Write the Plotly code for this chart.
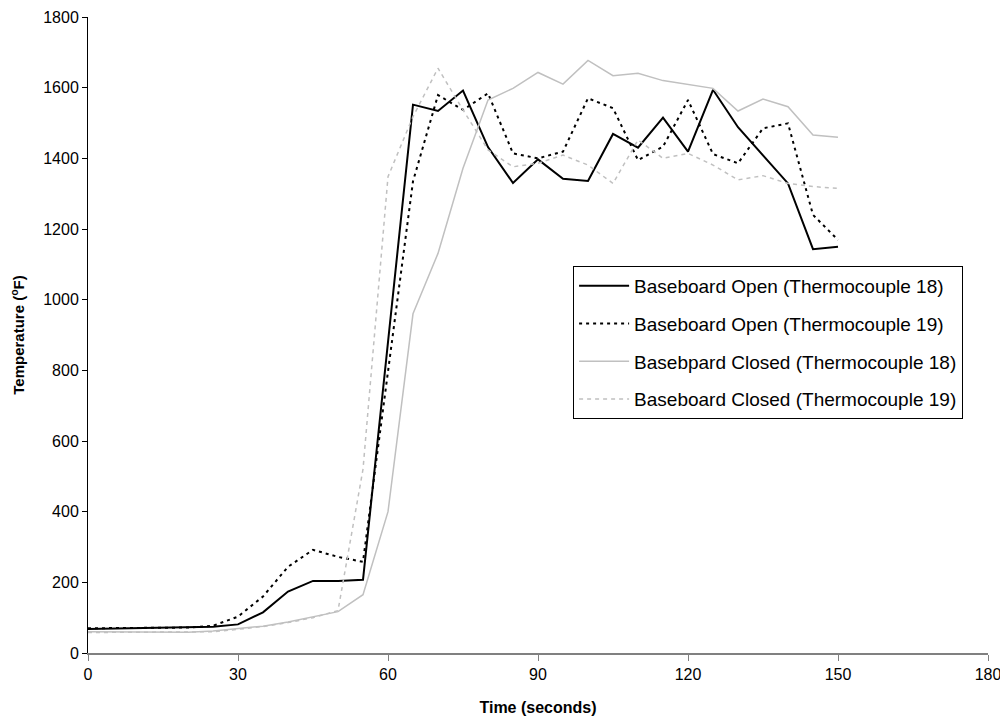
import plotly.graph_objects as go

time_s = [0, 5, 10, 15, 20, 25, 30, 35, 40, 45, 50, 55, 60, 65, 70, 75, 80, 85, 90, 95,
          100, 105, 110, 115, 120, 125, 130, 135, 140, 145, 150]

open_tc18 = [68, 69, 70, 70, 71, 74, 81, 115, 174, 204, 204, 207, 880, 1552, 1534, 1592,
             1432, 1330, 1397, 1342, 1336, 1469, 1430, 1515, 1419, 1594, 1488, 1409, 1329,
             1143, 1150]
open_tc19 = [70, 70, 71, 71, 72, 77, 103, 160, 244, 292, 272, 258, 795, 1335, 1579, 1537,
             1584, 1414, 1400, 1419, 1570, 1542, 1395, 1433, 1565, 1412, 1386, 1485, 1499,
             1240, 1169]
closed_tc18 = [60, 60, 60, 59, 59, 62, 68, 76, 88, 103, 117, 165, 400, 960, 1131, 1372,
               1565, 1598, 1643, 1610, 1677, 1634, 1641, 1620, 1610, 1598, 1534, 1568, 1546,
               1466, 1460]
closed_tc19 = [58, 58, 58, 58, 58, 60, 67, 75, 86, 100, 120, 520, 1348, 1518, 1655, 1537,
               1424, 1376, 1386, 1409, 1381, 1329, 1452, 1400, 1414, 1381, 1339, 1351, 1329,
               1320, 1315]

names = ["Baseboard Open (Thermocouple 18)", "Baseboard Open (Thermocouple 19)",
         "Basebpard Closed (Thermocouple 18)", "Baseboard Closed (Thermocouple 19)"]

x_ticks = [0, 30, 60, 90, 120, 150, 180]
y_ticks = [0, 200, 400, 600, 800, 1000, 1200, 1400, 1600, 1800]

styles = [
    dict(color="black", width=2, dash="solid"),
    dict(color="black", width=2, dash="3px,4px"),
    dict(color="#C0C0C0", width=1.5, dash="solid"),
    dict(color="#C0C0C0", width=1.5, dash="4px,4px"),
]
series = [open_tc18, open_tc19, closed_tc18, closed_tc19]

fig = go.Figure()
for i, (name, ys, st) in enumerate(zip(names, series, styles)):
    fig.add_trace(go.Scatter(x=time_s, y=ys, mode="lines", name=name, line=st,
                             legendgroup=f"g{i}"))

font_family = "Liberation Sans, Arial, sans-serif"
# page body has an 8px default margin, so the figure is sized to compensate
fig.update_layout(
    width=1000, height=717,
    margin=dict(l=80, r=20, t=9, b=72, autoexpand=False),
    paper_bgcolor="white", plot_bgcolor="white",
    font=dict(family=font_family, color="black", size=16),
    showlegend=True,
    legend=dict(x=0.539, y=0.6085, xanchor="left", yanchor="top",
                bordercolor="black", borderwidth=1, bgcolor="white",
                font=dict(size=19, family=font_family),
                tracegroupgap=10, itemwidth=50),
    xaxis=dict(range=[0, 180], tickvals=x_ticks, showgrid=False, zeroline=False,
               automargin=False,
               showline=True, linecolor="#808080", linewidth=2,
               ticks="outside", ticklen=6, tickcolor="#808080", tickwidth=1,
               tickfont=dict(size=16),
               title=dict(text="<b>Time (seconds)</b>", font=dict(size=16), standoff=20)),
    yaxis=dict(range=[0, 1800], tickvals=y_ticks, showgrid=False, zeroline=False,
               automargin=False,
               showline=True, linecolor="black", linewidth=1,
               ticks="outside", ticklen=5, tickcolor="black", tickwidth=1,
               tickfont=dict(size=16),
               title=dict(text="<b>Temperature (<sup>o</sup>F)</b>", font=dict(size=15),
                          standoff=14)),
)

fig.write_html("out.html")
